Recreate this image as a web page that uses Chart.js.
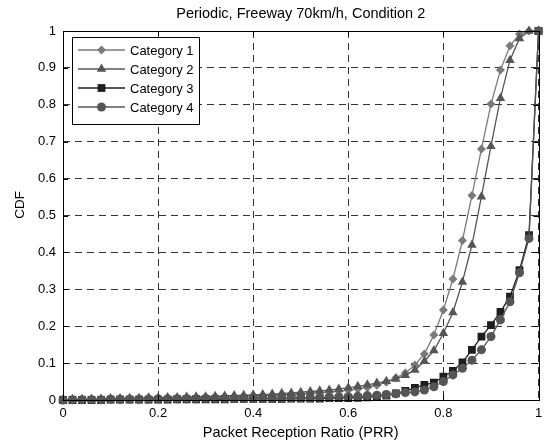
<!DOCTYPE html>
<html>
<head>
<meta charset="utf-8">
<script src="https://cdn.jsdelivr.net/npm/chart.js@4/dist/chart.umd.min.js"></script>
<style>
  body { margin: 0; background: #fff; }
  canvas { display: block; }
</style>
</head>
<body>
<canvas id="cdfChart" width="544" height="443"></canvas>
<script>
// PRR values on the x axis (step 0.02)
const prr = [0, 0.02, 0.04, 0.06, 0.08, 0.1, 0.12, 0.14, 0.16, 0.18,
  0.2, 0.22, 0.24, 0.26, 0.28, 0.3, 0.32, 0.34, 0.36, 0.38,
  0.4, 0.42, 0.44, 0.46, 0.48, 0.5, 0.52, 0.54, 0.56, 0.58,
  0.6, 0.62, 0.64, 0.66, 0.68, 0.7, 0.72, 0.74, 0.76, 0.78,
  0.8, 0.82, 0.84, 0.86, 0.88, 0.9, 0.92, 0.94, 0.96, 0.98, 1];

const category1 = [0, 0.001, 0.001, 0.002, 0.002, 0.003, 0.003, 0.004, 0.004, 0.005,
  0.005, 0.006, 0.006, 0.007, 0.007, 0.008, 0.008, 0.009, 0.009, 0.010,
  0.011, 0.012, 0.013, 0.014, 0.015, 0.017, 0.018, 0.020, 0.022, 0.024,
  0.027, 0.030, 0.034, 0.040, 0.048, 0.060, 0.073, 0.095, 0.125, 0.176,
  0.244, 0.328, 0.432, 0.554, 0.680, 0.802, 0.894, 0.960, 0.992, 1, 1];

const category2 = [0, 0.002, 0.002, 0.003, 0.003, 0.004, 0.004, 0.005, 0.005, 0.006,
  0.006, 0.007, 0.007, 0.008, 0.009, 0.009, 0.010, 0.011, 0.012, 0.013,
  0.014, 0.015, 0.016, 0.018, 0.019, 0.021, 0.023, 0.025, 0.027, 0.030,
  0.033, 0.037, 0.041, 0.046, 0.051, 0.057, 0.067, 0.081, 0.105, 0.134,
  0.181, 0.237, 0.320, 0.420, 0.551, 0.688, 0.818, 0.921, 0.980, 1, 1];

const category3 = [0, 0, 0, 0, 0, 0.001, 0.001, 0.001, 0.001, 0.001,
  0.001, 0.001, 0.002, 0.002, 0.002, 0.002, 0.002, 0.002, 0.003, 0.003,
  0.003, 0.003, 0.003, 0.003, 0.004, 0.004, 0.004, 0.004, 0.005, 0.005,
  0.005, 0.006, 0.007, 0.009, 0.012, 0.018, 0.025, 0.033, 0.041, 0.047,
  0.063, 0.079, 0.102, 0.136, 0.172, 0.203, 0.239, 0.280, 0.352, 0.447, 1];

const category4 = [0, 0.001, 0.001, 0.001, 0.001, 0.002, 0.002, 0.002, 0.002, 0.002,
  0.003, 0.003, 0.003, 0.003, 0.003, 0.004, 0.004, 0.004, 0.004, 0.004,
  0.005, 0.005, 0.005, 0.005, 0.006, 0.006, 0.006, 0.007, 0.007, 0.008,
  0.009, 0.010, 0.012, 0.013, 0.015, 0.017, 0.020, 0.022, 0.027, 0.036,
  0.050, 0.068, 0.086, 0.108, 0.136, 0.172, 0.217, 0.266, 0.345, 0.438, 1];

const seriesNames = ['Category 1', 'Category 2', 'Category 3', 'Category 4'];
const xTicks = [0, 0.2, 0.4, 0.6, 0.8, 1];
const yTicks = [0, 0.1, 0.2, 0.3, 0.4, 0.5, 0.6, 0.7, 0.8, 0.9, 1];

const FONT = '"Liberation Sans", Arial, sans-serif';

const toPoints = vals => vals.map((v, i) => ({ x: prr[i], y: v }));
const fmt = v => String(Math.round(v * 10) / 10);

const styles = [
  { color: '#7a7a7a', marker: 'rectRot', radius: 4.5, order: 4 },
  { color: '#555555', marker: 'triangle', radius: 5.5, order: 3 },
  { color: '#1e1e1e', marker: 'rect', radius: 5.5, order: 2 },
  { color: '#555555', marker: 'circle', radius: 4.5, order: 1 }
];

const allSeries = [category1, category2, category3, category4];

const datasets = allSeries.map((vals, i) => ({
  label: seriesNames[i],
  data: toPoints(vals),
  borderColor: styles[i].color,
  backgroundColor: styles[i].color,
  borderWidth: 1.3,
  pointStyle: styles[i].marker,
  pointRadius: styles[i].radius,
  pointBorderWidth: 0,
  pointBackgroundColor: styles[i].color,
  tension: 0,
  clip: 6,
  order: styles[i].order
}));

// draw a marker by hand for the legend
function drawMarker(ctx, type, x, y, r) {
  ctx.beginPath();
  if (type === 'circle') {
    ctx.arc(x, y, r, 0, Math.PI * 2);
  } else if (type === 'rect') {
    const s = r / Math.SQRT2;
    ctx.rect(x - s, y - s, 2 * s, 2 * s);
  } else if (type === 'rectRot') {
    ctx.moveTo(x - r, y); ctx.lineTo(x, y - r); ctx.lineTo(x + r, y); ctx.lineTo(x, y + r);
  } else if (type === 'triangle') {
    ctx.moveTo(x, y - r);
    ctx.lineTo(x + r * Math.sin(Math.PI * 2 / 3), y - r * Math.cos(Math.PI * 2 / 3));
    ctx.lineTo(x + r * Math.sin(Math.PI * 4 / 3), y - r * Math.cos(Math.PI * 4 / 3));
  }
  ctx.closePath();
  ctx.fill();
}

const framePlugin = {
  id: 'frame',
  afterDraw(chart) {
    const { ctx, chartArea: a, scales } = chart;
    const cx = (a.left + a.right) / 2;
    ctx.save();
    // title and axis labels
    ctx.fillStyle = '#000';
    ctx.textAlign = 'center';
    ctx.textBaseline = 'middle';
    ctx.font = '14.5px ' + FONT;
    ctx.fillText('Periodic, Freeway 70km/h, Condition 2', cx, 14);
    ctx.fillText('Packet Reception Ratio (PRR)', cx, 433);
    ctx.save();
    ctx.translate(20, 205);
    ctx.rotate(-Math.PI / 2);
    ctx.font = '13.5px ' + FONT;
    ctx.fillText('CDF', 0, 0);
    ctx.restore();

    // box and inward ticks
    ctx.strokeStyle = '#000';
    ctx.lineWidth = 1;
    ctx.setLineDash([]);
    ctx.strokeRect(Math.round(a.left) + 0.5, Math.round(a.top) + 0.5,
      Math.round(a.right - a.left), Math.round(a.bottom - a.top));
    const tl = 5;
    ctx.beginPath();
    xTicks.forEach(v => {
      const px = Math.round(scales.x.getPixelForValue(v)) + 0.5;
      ctx.moveTo(px, a.bottom); ctx.lineTo(px, a.bottom - tl);
      ctx.moveTo(px, a.top); ctx.lineTo(px, a.top + tl);
    });
    yTicks.forEach(v => {
      const py = Math.round(scales.y.getPixelForValue(v)) + 0.5;
      ctx.moveTo(a.left, py); ctx.lineTo(a.left + tl, py);
      ctx.moveTo(a.right, py); ctx.lineTo(a.right - tl, py);
    });
    ctx.stroke();

    // legend inside the plot
    const lx = 72, ly = 37, lw = 127, lh = 87;
    ctx.fillStyle = '#fff';
    ctx.fillRect(lx, ly, lw, lh);
    ctx.strokeRect(lx + 0.5, ly + 0.5, lw, lh);
    ctx.font = '13px ' + FONT;
    ctx.textAlign = 'left';
    seriesNames.forEach((name, i) => {
      const y = 50 + i * 19;
      ctx.strokeStyle = styles[i].color;
      ctx.lineWidth = 1.5;
      ctx.beginPath();
      ctx.moveTo(78, y); ctx.lineTo(125, y);
      ctx.stroke();
      ctx.fillStyle = styles[i].color;
      drawMarker(ctx, styles[i].marker, 101.5, y, styles[i].radius);
      ctx.fillStyle = '#000';
      ctx.fillText(name, 130, y + 1);
    });
    ctx.restore();
  }
};

const chart = new Chart(document.getElementById('cdfChart'), {
  type: 'line',
  data: { datasets },
  options: {
    responsive: false,
    animation: false,
    layout: { padding: { top: 31, right: 0, left: 0, bottom: 0 } },
    plugins: {
      legend: { display: false },
      tooltip: { enabled: false }
    },
    scales: {
      x: {
        type: 'linear',
        min: 0,
        max: 1,
        afterBuildTicks: s => { s.ticks = xTicks.map(v => ({ value: v })); },
        afterFit: s => { s.height = 43; s.paddingRight = 5; s.paddingLeft = 0; },
        grid: { color: '#333', lineWidth: 1, drawTicks: false },
        border: { display: false, dash: [7, 5] },
        ticks: { color: '#000', font: { family: FONT, size: 13 }, padding: 6, maxRotation: 0, callback: fmt }
      },
      y: {
        min: 0,
        max: 1,
        afterBuildTicks: s => { s.ticks = yTicks.map(v => ({ value: v })); },
        afterFit: s => { s.width = 63; },
        grid: { color: '#333', lineWidth: 1, drawTicks: false },
        border: { display: false, dash: [7, 5] },
        ticks: { color: '#000', font: { family: FONT, size: 13 }, padding: 7, callback: fmt }
      }
    }
  },
  plugins: [framePlugin]
});
</script>
</body>
</html>
